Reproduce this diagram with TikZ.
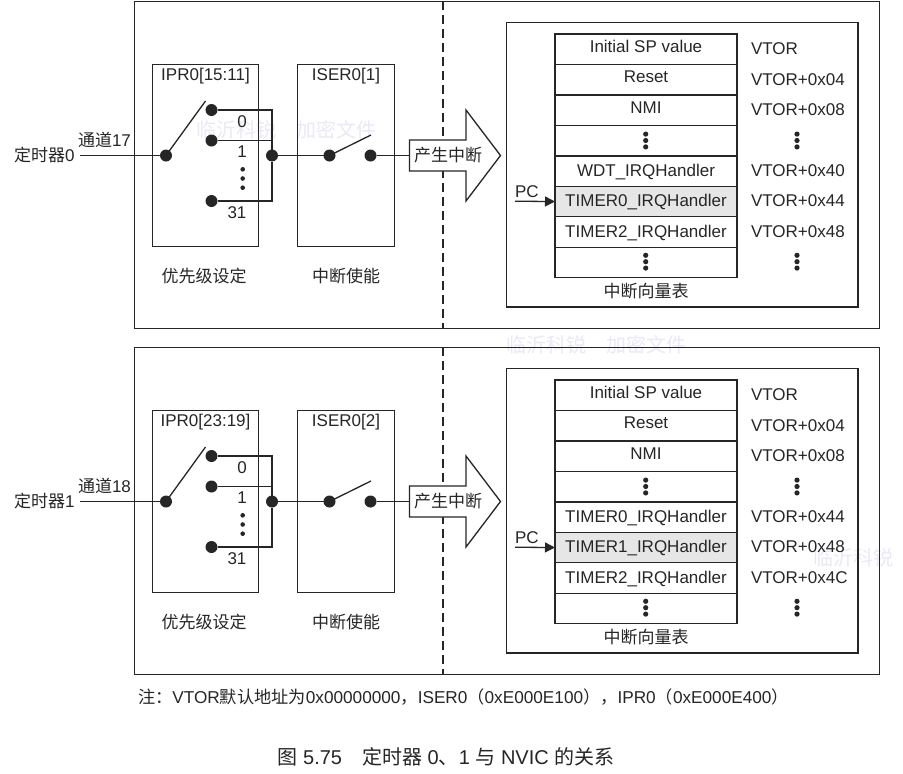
\documentclass[tikz,border=0pt]{standalone}
\usepackage{fontspec}
\setmainfont{Liberation Sans}
\newfontfamily\cjk{Noto Sans CJK SC}
\usetikzlibrary{arrows.meta,positioning}
\definecolor{ink}{HTML}{262626}
\definecolor{shade}{HTML}{E6E6E6}
\definecolor{mark}{HTML}{E9E9F8}
\newcommand{\threedots}[4]{\foreach \k in {-1,0,1} \fill[ink] (#1,#2+\k*#3) circle (#4);}

\begin{document}
\begin{tikzpicture}[x=1pt,y=-1pt,>={Stealth[length=10pt,width=10pt,inset=0pt]},line width=1.3pt,
	every node/.style={font=\fontsize{17}{20}\selectfont,text=ink,outer sep=0pt},
	box/.style={draw=ink},
	contact/.style={circle,fill=ink,inner sep=0pt,minimum size=12pt},
	label/.style={inner sep=0pt},
	stamp/.style={label,text=mark,font=\fontsize{20}{24}\selectfont\cjk},
	row/.style={box,minimum width=182pt,minimum height=30.5pt,inner sep=0pt,text height=12pt}]

	\useasboundingbox (0,0) rectangle (903,774);
	\fill[white] (0,0) rectangle (903,774);

	\node [stamp] (mark_a) at (286,130) {临沂科锐\quad 加密文件};
	\node [stamp] (mark_b) at (596,345) {临沂科锐\quad 加密文件};
	\node [stamp] (mark_c) at (853,558) {临沂科锐};

	\foreach \p/\dy/\tmr/\ch/\ipr/\iser/\rowe/\adre/\rowf/\adrf/\rowg/\adrg in {
		0/0/0/17/15:11/1/WDT\_IRQHandler/0x40/TIMER0\_IRQHandler/0x44/TIMER2\_IRQHandler/0x48,
		1/346/1/18/23:19/2/TIMER0\_IRQHandler/0x44/TIMER1\_IRQHandler/0x48/TIMER2\_IRQHandler/0x4C}
	{
	\begin{scope}[yshift=-\dy pt]
		\node [box,minimum width=745pt,minimum height=327pt] (panel\p) at (507,164.7) {};
		\draw [ink,dash pattern=on 9pt off 5pt] (443,1) coordinate (cut\p) -- (443,328);

		% timer input and priority switch
		\node [label,anchor=east,inner xsep=5.5pt] (tmr\p) at (80,155) {{\cjk 定时器}\tmr};
		\node [label,anchor=south west] (ch\p) at (78,148) {{\cjk 通道}\ch};
		\node [box,minimum width=106pt,minimum height=182pt] (ipr\p) at (205.5,155.5) {};
		\node [label] (iprname\p) at (205.5,76) {IPR0[\ipr]};
		\node [box,minimum width=97pt,minimum height=182pt] (iser\p) at (346,155.5) {};
		\node [label] (isername\p) at (346,76) {ISER0[\iser]};
		\node [contact] (in\p)  at (166,155.5) {};
		\node [contact] (o0\p)  at (211.5,110) {};
		\node [contact] (o1\p)  at (211.5,140.5) {};
		\node [contact] (o31\p) at (211.5,201) {};
		\node [contact] (bus\p) at (272,155.5) {};
		\node [contact] (ea\p)  at (329.5,155.5) {};
		\node [contact] (eb\p)  at (370.5,155.5) {};
		\node [label] (n0\p)  at (242,121.5) {0};
		\node [label] (n1\p)  at (242,152) {1};
		\node [label] (n31\p) at (237,213) {31};
		\threedots{242.7}{178.5}{9.2}{2.3}
		\node [label] (prio\p) at (204,276) {\cjk 优先级设定};
		\node [label] (enable\p) at (346,276) {\cjk 中断使能};

		\coordinate (armp\p) at (205.5,101);
		\coordinate (arme\p) at (371,135);
		\coordinate (start\p) at (80,155.5);
		\coordinate (tail\p) at (409.5,155.5);
		\draw [ink] (start\p) -- (in\p);
		\draw [ink] (in\p.center) -- (armp\p);
		\draw [ink] (o0\p) -| (bus\p);
		\draw [ink] (o1\p) -| (bus\p);
		\draw [ink] (o31\p) -| (bus\p);
		\draw [ink] (bus\p) -- (ea\p);
		\draw [ink] (ea\p.center) -- (arme\p);
		\draw [ink] (eb\p) -- (tail\p);

		% interrupt arrow
		\draw [ink,fill=white] (tail\p) -- (409.5,140) -- (466,140) -- (466,110) -- (500.5,155.5)
			-- (466,201) -- (466,171) -- (409.5,171) -- cycle;
		\node [label] (irq\p) at (448,155) {\cjk 产生中断};

		% vector table
		\node [box,minimum width=351.5pt,minimum height=284.5pt] (vect\p) at (682.2,164.7) {};
		\foreach \r/\rtxt/\radr/\rd/\rfill [evaluate=\r as \ry using 49.3+30.45*(\r-1)] in {
			1/Initial SP value/VTOR/6/white,
			2/Reset/VTOR+0x04/6/white,
			3/NMI/VTOR+0x08/6/white,
			4///0/white,
			5/\rowe/VTOR+\adre/2/white,
			6/\rowf/VTOR+\adrf/2/shade,
			7/\rowg/VTOR+\adrg/2/white,
			8///0/white}
		{
			\node [row,text depth=\rd pt,fill=\rfill] (row\p-\r) at (646,\ry) {\rtxt};
			\node [label,anchor=west] (adr\p-\r) at (751,\ry-0.6) {\radr};
		}
		\threedots{645.7}{140.5}{6.4}{2.6}
		\threedots{645.7}{261.7}{6.4}{2.6}
		\threedots{797}{140.5}{6.4}{2.6}
		\threedots{797}{261.7}{6.4}{2.6}
		\node [label] (vectname\p) at (646,291) {\cjk 中断向量表};

		\node [label,anchor=south west] (pc\p) at (515,198) {PC};
		\coordinate (pcstart\p) at (515,201.2);
		\draw [->,ink] (pcstart\p) -- (row\p-6.west);
	\end{scope}
	}

	\node [label,anchor=west] (note) at (138,697) {\fontsize{17.2}{20}\selectfont{\cjk 注^^^^ff1a}VTOR{\cjk 默认地址为}0x00000000{\cjk ^^^^ff0c}ISER0{\cjk ^^^^ff08}0xE000E100{\cjk ^^^^ff09^^^^ff0c}IPR0{\cjk ^^^^ff08}0xE000E400{\cjk ^^^^ff09}};
	\node [label] (caption) at (446,757) {\fontsize{20}{24}\selectfont{\cjk 图} 5.75\quad{\cjk 定时器} 0{\cjk 、}1 {\cjk 与} NVIC {\cjk 的关系}};

\end{tikzpicture}
\end{document}
